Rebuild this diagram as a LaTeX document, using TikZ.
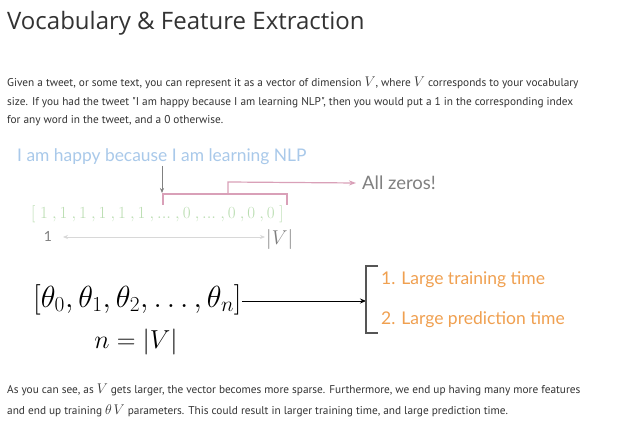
\RequirePackage{fix-cm}
\documentclass[tikz,border=0pt]{standalone}
\usepackage{fontspec}
\setmainfont{Lato}
\newfontfamily\titlefont{Open Sans}
\newfontfamily\bodyfont{PT Sans}
\usetikzlibrary{arrows.meta}
\definecolor{tblue}{HTML}{A9C9EA}
\definecolor{tgreen}{HTML}{B9DDB0}
\definecolor{tpink}{HTML}{D9A0B8}
\definecolor{tgray}{HTML}{808080}
\definecolor{tlight}{HTML}{D8D8D8}
\definecolor{torange}{HTML}{F0A050}
\definecolor{tdark}{HTML}{555555}
\definecolor{ttext}{HTML}{333333}
\newcommand{\bigV}{{\fontsize{14}{14}\selectfont$V$}}
\newcommand{\bigth}{{\fontsize{14}{14}\selectfont$\theta$}}
\newcommand{\vdts}{{.}{.}{.}}
\newcommand{\vgap}{\mskip 4.5mu}
\tikzset{
  body/.style={anchor=base west, inner sep=0pt, font=\bodyfont\fontsize{11.3}{13}\selectfont, text=ttext},
  pinkline/.style={draw=tpink, line width=1.2pt},
}
\begin{document}
\begin{tikzpicture}[x=1pt,y=-1pt]
\useasboundingbox[fill=white] (0,0) rectangle (631,427);
\node[anchor=base west, inner sep=0pt, font=\titlefont\fontsize{24}{28}\selectfont, text=ttext] (title) at (7,30) {Vocabulary \& Feature Extraction};
\node[body] (p1) at (7,87) {Given a tweet, or some text, you can represent it as a vector of dimension \bigV, where \bigV\ corresponds to your vocabulary};
\node[body] (p2) at (7,106) {size. If you had the tweet "I am happy because I am learning NLP", then you would put a 1 in the corresponding index};
\node[body] (p3) at (7,124) {for any word in the tweet, and a 0 otherwise.};
\node[anchor=base west, inner sep=0pt, font=\fontsize{17.4}{20}\selectfont, text=tblue] (tweet) at (17,162) {I am happy because I am learning NLP};
\node[anchor=base west, inner sep=0pt, font=\fontsize{17}{20}\selectfont, text=tgreen] (vec) at (31,219) {$[\;1\vgap,1\vgap,1\vgap,1\vgap,1\vgap,1\vgap,\vdts\vgap,0\vgap,\vdts\vgap,0\vgap,0\vgap,0\;]$};
\coordinate (a1) at (162,166);
\coordinate (a2) at (162,193);
\draw[-{Stealth[length=5pt,width=4pt]}, tgray, line width=0.6pt] (a1) -- (a2);
\coordinate (b1) at (163,205);
\coordinate (b2) at (163,194);
\coordinate (b3) at (287,194);
\coordinate (b4) at (287,205);
\draw[pinkline] (b1) -- (b2) -- (b3) -- (b4);
\coordinate (c1) at (228,194);
\coordinate (c2) at (228,182);
\node[anchor=west, inner sep=0pt, font=\fontsize{18.5}{22}\selectfont, text=tgray] (zeros) at (362,183) {All zeros!};
\draw[pinkline, -{Stealth[length=7pt,width=5pt]}] (c1) -- (c2) -- (zeros.west -| 356,0);
\node[anchor=base, inner sep=0pt, font=\fontsize{14}{16}\selectfont, text=tgray] (one) at (48,242) {1};
\node[anchor=base west, inner sep=0pt, font=\fontsize{20}{22}\selectfont, text=tgray] (absV) at (266,245) {$|V|$};
\draw[{Stealth[length=5pt,width=4pt]}-{Stealth[length=5pt,width=4pt]}, tlight, line width=0.8pt] (63,237) -- (265,237);
\node[anchor=base west, inner sep=0pt, font=\fontsize{30.5}{34}\selectfont] (theta) at (33,307) {$[\theta_0,\theta_1,\theta_2,\ldots,\theta_n]$};
\node[anchor=base, inner sep=0pt, font=\fontsize{26}{30}\selectfont] (neq) at (136,348) {$n=|V|$};
\coordinate (br) at (366,301);
\draw[-{Stealth[length=6pt,width=5pt]}, line width=0.8pt] (theta.east |- br) -- (br);
\draw[tdark, line width=1.2pt] (378,266) -- (366,266) -- (366,333) -- (378,333);
\node[anchor=base west, inner sep=0pt, font=\fontsize{17.5}{20}\selectfont, text=torange] (r1) at (381,285) {1. Large training time};
\node[anchor=base west, inner sep=0pt, font=\fontsize{17.5}{20}\selectfont, text=torange] (r2) at (381,324) {2. Large prediction time};
\node[body] (q1) at (7,393) {As you can see, as \bigV\ gets larger, the vector becomes more sparse. Furthermore, we end up having many more features};
\node[body] (q2) at (7,414) {and end up training \bigth\,\bigV\ parameters. This could result in larger training time, and large prediction time.};
\end{tikzpicture}
\end{document}
